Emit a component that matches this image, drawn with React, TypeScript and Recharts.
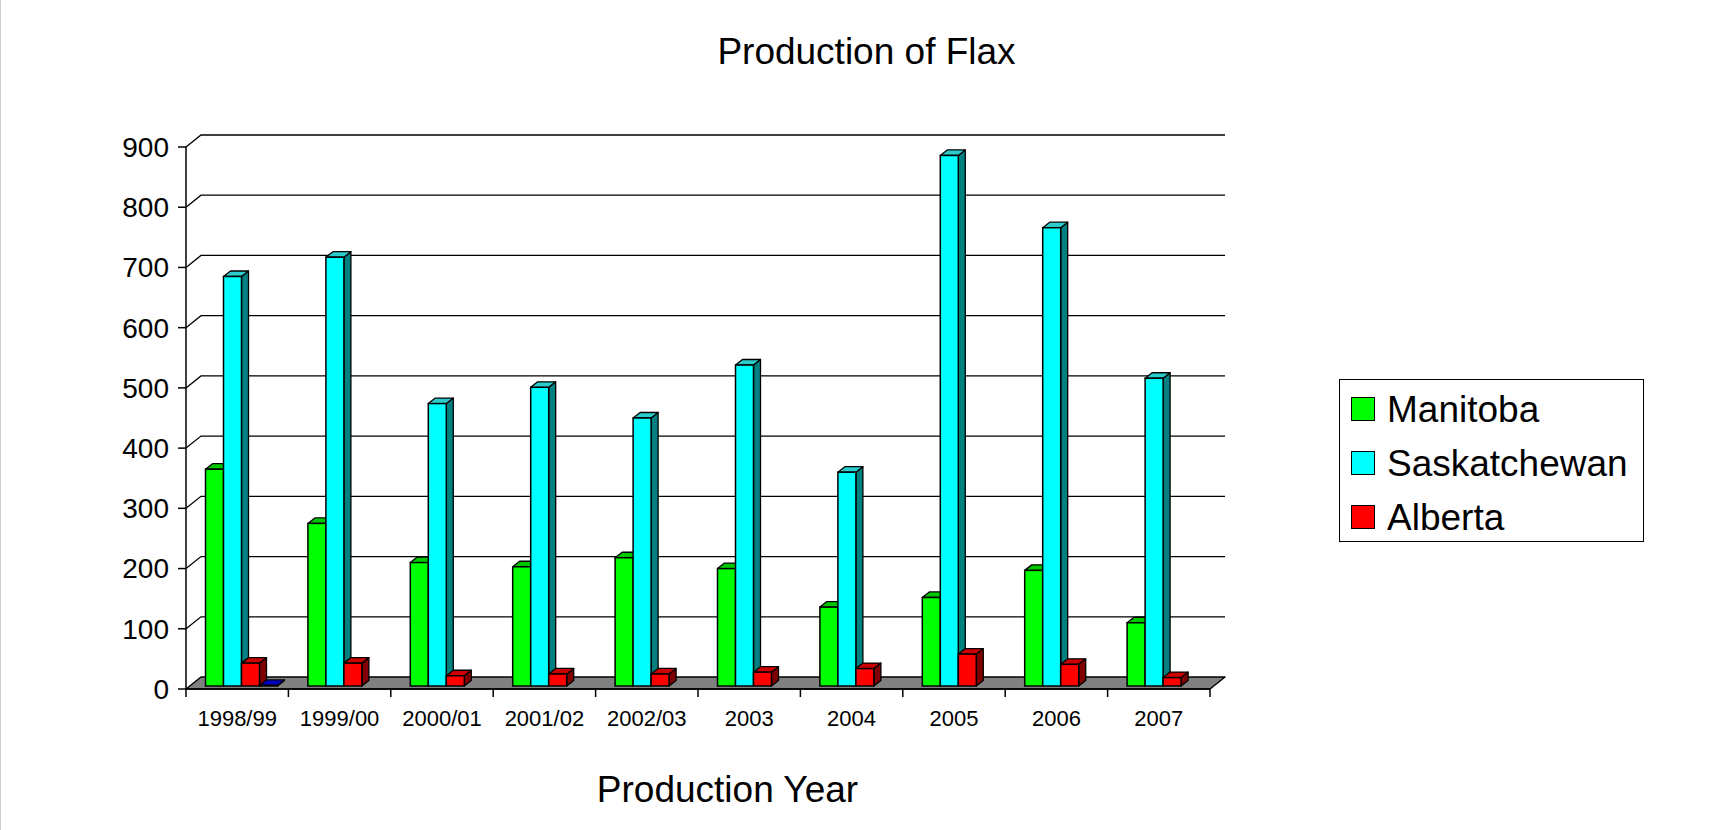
import React from 'react';
import { BarChart, Bar, XAxis, YAxis, CartesianGrid } from 'recharts';

// ---- data ----
const years = ['1998/99', '1999/00', '2000/01', '2001/02', '2002/03', '2003', '2004', '2005', '2006', '2007'];
const manitoba = [360, 270, 205, 198, 213, 195, 131, 147, 192, 105];
const saskatchewan = [680, 712, 469, 496, 445, 533, 355, 881, 761, 511];
const alberta = [38, 38, 17, 20, 20, 23, 29, 53, 36, 14];
const other: (number | null)[] = [1, null, null, null, null, null, null, null, null, null];
const yTicks = [0, 100, 200, 300, 400, 500, 600, 700, 800, 900];

const data = years.map((year, i) => ({
  year,
  Manitoba: manitoba[i],
  Saskatchewan: saskatchewan[i],
  Alberta: alberta[i],
  Other: other[i],
}));

// ---- styling ----
const FONT = '"Liberation Sans", Arial, Helvetica, sans-serif';
const W = 1730;
const H = 830;
const Y_AXIS_W = 80;
const X_AXIS_H = 60;
const MARGIN = { top: 147, right: 520, bottom: 141 - X_AXIS_H, left: 186 - Y_AXIS_W };
const PLOT_LEFT = MARGIN.left + Y_AXIS_W;
const PLOT_BOTTOM = H - MARGIN.bottom - X_AXIS_H;
const PLOT_W = W - PLOT_LEFT - MARGIN.right;
const BAND = PLOT_W / years.length;

// depth of the back wall and of each column
const WALL_DX = 15;
const WALL_DY = 12;
const COL_DX = 7;
const COL_DY = 5.5;
const COL_SHIFT_X = 4.5;
const COL_SHIFT_Y = -3;

type SeriesStyle = { key: string; front: string; top: string; side: string; legend: boolean };

const SERIES: SeriesStyle[] = [
  { key: 'Manitoba', front: '#00FF00', top: '#00C800', side: '#008000', legend: true },
  { key: 'Saskatchewan', front: '#00FFFF', top: '#2CCCCC', side: '#008080', legend: true },
  { key: 'Alberta', front: '#FF0000', top: '#CC0000', side: '#800000', legend: true },
  { key: 'Other', front: '#0000FF', top: '#0000C0', side: '#000080', legend: false },
];

function column3d(s: SeriesStyle) {
  return (props: any) => {
    const { x, y, width, height, payload } = props;
    if (payload == null || payload[s.key] == null || x == null || y == null || isNaN(y)) {
      return <g />;
    }
    const x0 = x + COL_SHIFT_X;
    const y0 = y + COL_SHIFT_Y;
    const w = width;
    const h = Math.max(height || 0, 0);
    const side = `${x0 + w},${y0} ${x0 + w + COL_DX},${y0 - COL_DY} ${x0 + w + COL_DX},${y0 + h - COL_DY} ${x0 + w},${y0 + h}`;
    const top = `${x0},${y0} ${x0 + COL_DX},${y0 - COL_DY} ${x0 + w + COL_DX},${y0 - COL_DY} ${x0 + w},${y0}`;
    return (
      <g>
        <polygon points={side} fill={s.side} stroke="#000" strokeWidth={1.3} strokeLinejoin="round" />
        <polygon points={top} fill={s.top} stroke="#000" strokeWidth={1.3} strokeLinejoin="round" />
        {h > 0 && <rect x={x0} y={y0} width={w} height={h} fill={s.front} stroke="#000" strokeWidth={1.5} />}
      </g>
    );
  };
}

// back-wall gridlines with the receding diagonal, plus the grey floor at zero
const wallLine = (props: any) => {
  const { x1, y1, x2, index } = props;
  if (Math.abs(y1 - PLOT_BOTTOM) < 0.6) {
    const pts = `${x1},${y1} ${x2},${y1} ${x2 + WALL_DX},${y1 - WALL_DY} ${x1 + WALL_DX},${y1 - WALL_DY}`;
    return (
      <g key={`floor-${index}`}>
        <polygon points={pts} fill="#808080" stroke="#000" strokeWidth={1.5} strokeLinejoin="round" />
      </g>
    );
  }
  return (
    <path
      key={`wall-${index}`}
      d={`M${x1},${y1} L${x1 + WALL_DX},${y1 - WALL_DY} L${x2 + WALL_DX},${y1 - WALL_DY}`}
      fill="none"
      stroke="#000"
      strokeWidth={1.3}
    />
  );
};

const YearTick = (props: any) => {
  const { x, y, payload, index } = props;
  const half = payload && typeof payload.offset === 'number' && payload.offset > 0 ? payload.offset : BAND / 2;
  const last = index === years.length - 1;
  return (
    <g>
      <line x1={x - half} y1={y} x2={x - half} y2={y + 8} stroke="#000" strokeWidth={1.5} />
      {last && <line x1={x + half} y1={y} x2={x + half} y2={y + 8} stroke="#000" strokeWidth={1.5} />}
      <text x={x} y={y + 37} textAnchor="middle" fontSize={22} fontFamily={FONT} fill="#000">
        {payload.value}
      </text>
    </g>
  );
};

const legendItems = SERIES.filter((s) => s.legend);

export default function App() {
  return (
    <div style={{ position: 'fixed', left: 0, top: 0, width: W, height: H, background: '#fff', fontFamily: FONT }}>
      <BarChart width={W} height={H} data={data} margin={MARGIN} barSize={18} barGap={0}>
        <CartesianGrid horizontal={wallLine} vertical={false} />
        <XAxis
          dataKey="year"
          height={X_AXIS_H}
          axisLine={{ stroke: '#000', strokeWidth: 1.5 }}
          tickLine={false}
          tickSize={0}
          tickMargin={0}
          tick={<YearTick />}
          interval={0}
        />
        <YAxis
          width={Y_AXIS_W}
          domain={[0, 900]}
          ticks={yTicks}
          interval={0}
          axisLine={{ stroke: '#000', strokeWidth: 1.5 }}
          tickLine={{ stroke: '#000', strokeWidth: 1.5 }}
          tickSize={8}
          tickMargin={9}
          tick={{ fill: '#000', fontSize: 28, fontFamily: FONT }}
        />
        {SERIES.map((s) => (
          <Bar
            key={s.key}
            dataKey={s.key}
            fill={s.front}
            shape={column3d(s)}
            legendType={s.legend ? 'square' : 'none'}
            isAnimationActive={false}
          />
        ))}
      </BarChart>

      <svg width={W} height={H} style={{ position: 'absolute', left: 0, top: 0, pointerEvents: 'none' }}>
        <line x1={0.5} y1={0} x2={0.5} y2={H} stroke="#d0d0d0" strokeWidth={1} />
        <text x={866.5} y={64} textAnchor="middle" fontSize={37} fontFamily={FONT} fill="#000">
          Production of Flax
        </text>
        <text x={727.5} y={802} textAnchor="middle" fontSize={37} fontFamily={FONT} fill="#000">
          Production Year
        </text>
      </svg>

      <div
        style={{
          position: 'absolute',
          left: 1339,
          top: 379,
          width: 305,
          height: 163,
          boxSizing: 'border-box',
          border: '1.5px solid #000',
          background: '#fff',
        }}
      >
        {legendItems.map((s, i) => (
          <div
            key={s.key}
            style={{
              position: 'absolute',
              left: 11,
              top: 1.5 + i * 54.3,
              height: 54,
              display: 'flex',
              alignItems: 'center',
              whiteSpace: 'nowrap',
            }}
          >
            <div
              style={{
                width: 24,
                height: 24,
                boxSizing: 'border-box',
                border: '1.5px solid #000',
                background: s.front,
                marginRight: 12,
              }}
            />
            <span style={{ fontSize: 37, lineHeight: '54px', color: '#000', position: 'relative', top: 1 }}>{s.key}</span>
          </div>
        ))}
      </div>
    </div>
  );
}
